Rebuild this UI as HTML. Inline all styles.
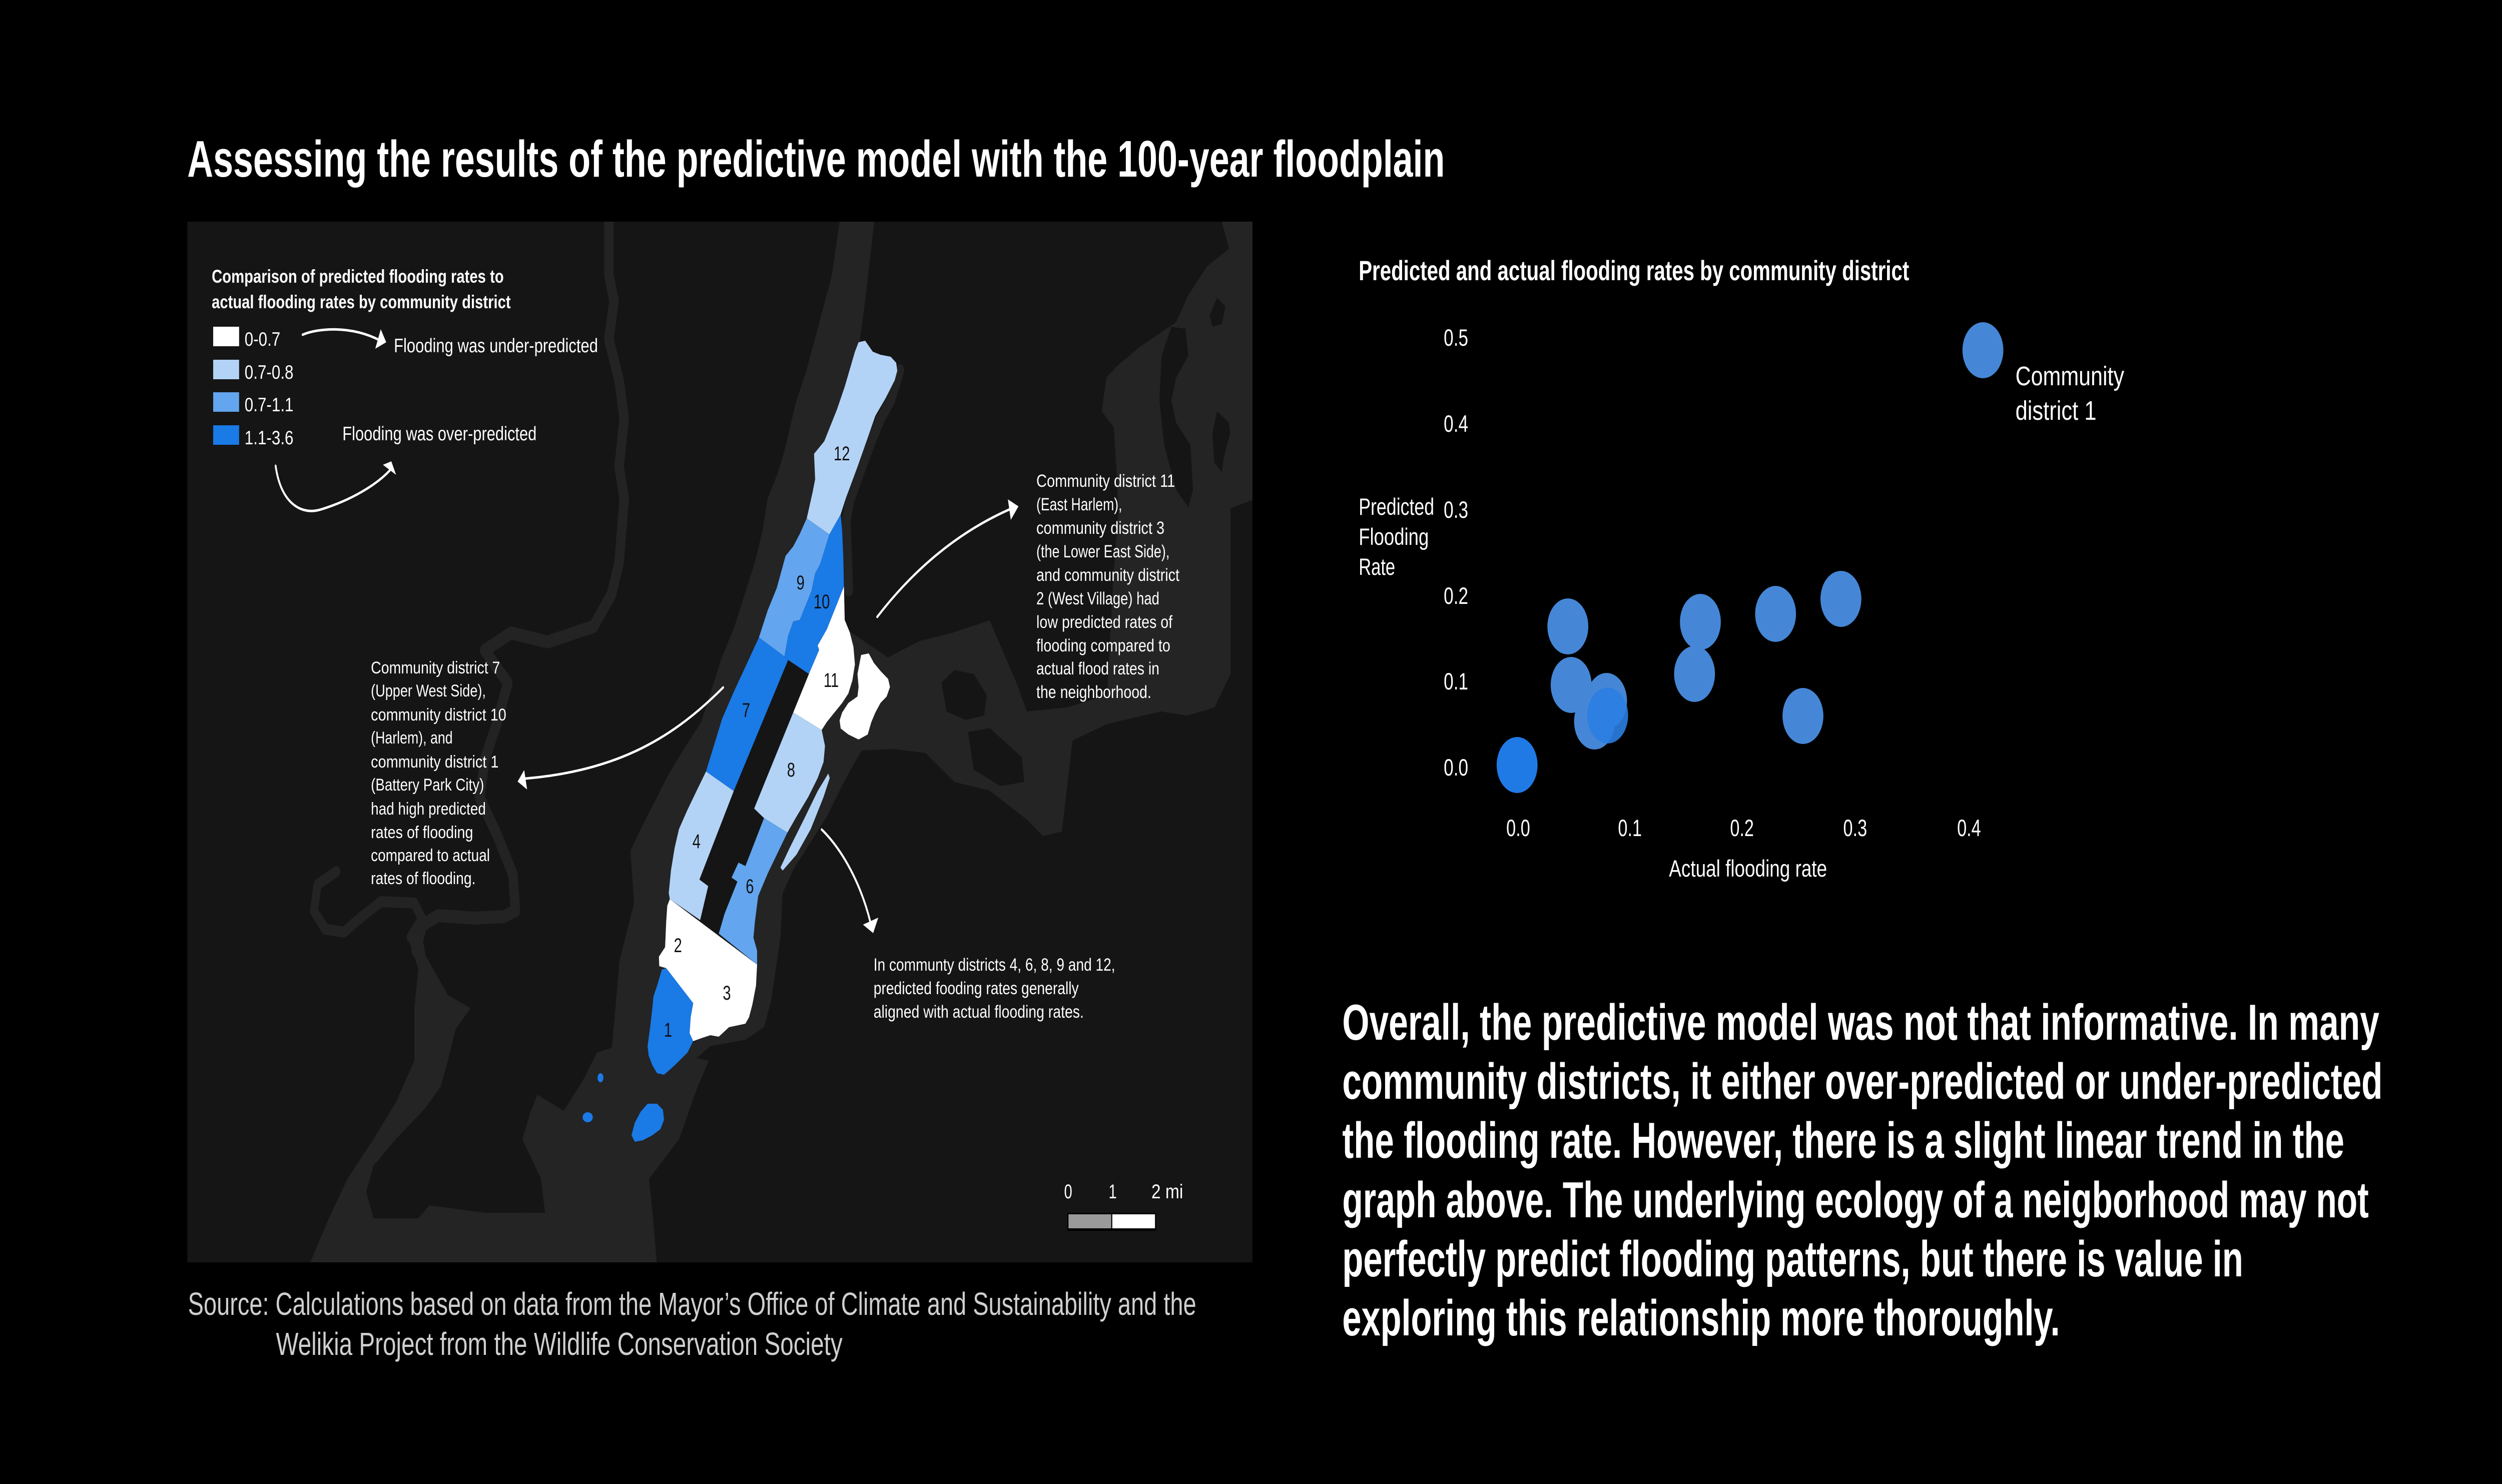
<!DOCTYPE html>
<html>
<head>
<meta charset="utf-8">
<style>
html,body{margin:0;padding:0;background:#000;overflow:hidden;width:100%;height:100%;}
svg{display:block;width:100vw;height:100vh;}
text{font-family:"Liberation Sans",Arial,sans-serif;}
</style>
</head>
<body>
<svg viewBox="0 0 6854 2966" preserveAspectRatio="none" xmlns="http://www.w3.org/2000/svg">
<rect x="0" y="0" width="6854" height="2966" fill="#000"/>

<!-- Title -->
<text x="513" y="353" font-size="103" font-weight="bold" fill="#fff" textLength="3445" lengthAdjust="spacingAndGlyphs">Assessing the results of the predictive model with the 100-year floodplain</text>

<!-- MAP -->
<defs>
<clipPath id="mapclip"><rect x="513" y="443" width="2918" height="2080"/></clipPath>
</defs>
<g clip-path="url(#mapclip)">
<rect x="513" y="443" width="2918" height="2080" fill="#151515"/>

<!-- rivers -->
<g fill="none" stroke="#232323" stroke-linejoin="round" stroke-linecap="round">
<path stroke-width="26" d="M1668,443 L1668,550 L1682,601 L1668,678 L1696,760 L1710,837 L1696,933 L1710,996 L1696,1124 L1675,1188 L1626,1252 L1500,1283 L1400,1265 L1328,1300 L1391,1365 L1363,1441 L1328,1518 L1314,1594 L1363,1671 L1405,1748 L1412,1820 L1380,1832 L1300,1835 L1200,1830 L1156,1850 L1140,1900"/>
<path stroke-width="22" d="M1125,1873 L1156,1836 L1135,1805 L1044,1802 L993,1831 L942,1863 L891,1857 L860,1821 L870,1768 L921,1742"/>
<path stroke-width="24" d="M2465,740 L2440,800 L2410,840 L2388,880 L2360,935 L2328,1000 L2318,1040 L2322,1110 L2325,1180"/>
</g>

<!-- Hudson & upper bay -->
<polygon fill="#242424" points="2300,443 2279,550 2244,646 2209,741 2180,805 2149,901 2131,945 2103,996 2089,1060 2068,1124 2040,1188 2012,1252 1977,1315 1949,1379 1921,1443 1865,1507 1830,1550 1760,1650 1727,1700 1737,1805 1697,1920 1686,2015 1676,2094 1635,2104 1595,2162 1544,2220 1472,2188 1452,2225 1431,2277 1482,2356 1493,2424 1431,2424 1401,2523 1799,2523 1789,2435 1778,2356 1860,2277 1911,2172 1942,2120 1880,2110 1820,2050 1830,1950 1860,1850 1870,1780 1900,1650 1950,1560 2000,1450 2080,1300 2200,1100 2300,900 2352,700 2370,600 2395,443"/>
<!-- Newark bay area -->
<polygon fill="#242424" points="1115,1868 1156,1868 1166,1910 1227,1989 1289,2015 1248,2057 1227,2120 1207,2172 1166,2214 1084,2277 1023,2330 1003,2382 1023,2435 1146,2435 1176,2409 1329,2424 1431,2424 1401,2523 850,2523 901,2435 952,2356 1023,2277 1084,2204 1135,2120 1135,2015 1146,1936"/>
<!-- East river / sound -->
<polygon fill="#242424" points="1883,2091 2010,2033 2042,1938 2049,1810 2138,1664 2233,1459 2290,1330 2300,1248 2366,1281 2432,1314 2520,1281 2608,1265 2711,1240 2784,1364 2813,1422 2923,1414 3033,1389 3050,1150 3064,1023 3058,934 3051,854 3018,822 3031,755 3058,733 3123,693 3222,644 3255,590 3307,532 3367,497 3347,443 3431,443 3431,999 3371,1016 3371,1347 3327,1414 3253,1430 3180,1422 3033,1447 2938,1480 2909,1662 2857,1671 2813,1638 2711,1580 2615,1563 2535,1505 2447,1497 2361,1500 2342,1523 2304,1574 2265,1632 2221,1683 2176,1734 2144,1785 2138,1874 2125,1938 2112,2002 2093,2053 2042,2078 1946,2091 1895,2123 1857,2123"/>
<!-- land patches in water -->
<g fill="#151515">
<polygon points="2579,1364 2615,1339 2667,1347 2703,1389 2696,1430 2645,1439 2593,1422"/>
<polygon points="2652,1463 2711,1455 2799,1513 2806,1563 2740,1571 2667,1538"/>
<polygon points="3209,653 3248,657 3255,711 3222,755 3209,800 3222,845 3261,889 3268,979 3255,1014 3222,979 3189,889 3176,800 3182,711"/>
<polygon points="3334,822 3367,845 3370,867 3353,912 3347,943 3327,925 3321,867"/>
<polygon points="3334,595 3357,613 3347,648 3321,653 3314,630"/>
</g>

<!-- Manhattan districts -->
<polygon fill="#b3d3f6" points="2352,684 2370,681 2391,703 2412,709 2440,713 2455,725 2458,741 2451,760 2426,796 2398,831 2377,875 2349,933 2317,996 2303,1028 2272,1068 2210,1036 2226,984 2233,958 2230,907 2258,882 2293,818 2314,773 2342,703"/>
<polygon fill="#63a5ee" points="2210,1036 2272,1068 2247,1127 2233,1146 2223,1181 2191,1239 2173,1242 2159,1271 2149,1312 2079,1274 2103,1220 2128,1175 2152,1111 2173,1092 2191,1067"/>
<polygon fill="#1a7ae6" points="2303,1028 2307,1060 2310,1111 2312,1172 2293,1207 2265,1258 2240,1290 2244,1299 2216,1347 2159,1319 2149,1312 2159,1271 2173,1242 2191,1239 2223,1181 2233,1146 2247,1127 2272,1068"/>
<polygon fill="#ffffff" points="2312,1172 2314,1239 2328,1264 2338,1293 2342,1328 2335,1360 2324,1386 2307,1405 2286,1424 2265,1443 2251,1459 2173,1424 2216,1347 2244,1299 2240,1290 2265,1258 2293,1207"/>
<polygon fill="#ffffff" points="2359,1309 2380,1306 2394,1325 2412,1341 2433,1357 2438,1373 2429,1392 2412,1405 2398,1424 2387,1443 2377,1468 2352,1478 2324,1468 2303,1456 2300,1440 2307,1424 2324,1405 2349,1392 2352,1373 2349,1347"/>
<polygon fill="#1a7ae6" points="2079,1274 2149,1312 2159,1319 2010,1581 1934,1542 1978,1437 2010,1383 2050,1320"/>
<polygon fill="#b3d3f6" points="2173,1424 2251,1459 2260,1491 2256,1523 2240,1555 2214,1593 2182,1632 2157,1664 2093,1635 2066,1616"/>
<polygon fill="#b3d3f6" points="2269,1546 2273,1555 2256,1593 2221,1657 2182,1708 2144,1740 2138,1734 2163,1695 2202,1638 2240,1581"/>
<polygon fill="#63a5ee" points="2093,1635 2157,1664 2128,1708 2103,1746 2077,1791 2068,1842 2064,1874 2074,1900 2074,1928 1969,1866 1985,1826 2020,1762 2004,1754 2023,1724 2042,1731"/>
<polygon fill="#b3d3f6" points="1934,1542 2010,1581 1916,1758 1940,1771 1918,1839 1835,1797 1832,1785 1838,1740 1848,1695 1860,1657 1883,1619 1908,1581"/>
<polygon fill="#ffffff" points="1835,1797 2074,1928 2071,1970 2061,2008 2052,2033 2042,2046 2023,2049 1997,2053 1969,2072 1946,2069 1921,2075 1899,2081 1889,2065 1892,2033 1899,2005 1825,1935 1806,1931 1805,1912 1822,1893 1825,1842 1828,1810"/>
<polygon fill="#1a7ae6" points="1825,1935 1899,2005 1892,2033 1889,2065 1899,2081 1883,2104 1857,2123 1838,2136 1819,2148 1800,2145 1787,2129 1777,2110 1774,2091 1781,2053 1787,2015 1790,1992 1800,1970 1813,1938"/>
<polygon fill="#1a7ae6" points="1774,2206 1800,2206 1816,2218 1819,2238 1809,2257 1787,2269 1761,2279 1739,2282 1730,2269 1739,2244 1755,2222"/>
<ellipse cx="1610" cy="2233" rx="14" ry="10" fill="#1a7ae6"/>
<ellipse cx="1645" cy="2154" rx="8" ry="9" fill="#1a7ae6"/>

<!-- district numbers -->
<g font-size="40" fill="#111" text-anchor="middle">
<text x="2306" y="920">12</text>
<text x="2193" y="1178">9</text>
<text x="2251" y="1216">10</text>
<text x="2277" y="1373">11</text>
<text x="2044" y="1433">7</text>
<text x="2167" y="1552">8</text>
<text x="1908" y="1695">4</text>
<text x="2054" y="1785">6</text>
<text x="1857" y="1903">2</text>
<text x="1991" y="1998">3</text>
<text x="1830" y="2072">1</text>
</g>

<!-- legend -->
<text x="580" y="565" font-size="37" font-weight="bold" fill="#fff" textLength="800" lengthAdjust="spacingAndGlyphs">Comparison of predicted flooding rates to</text>
<text x="580" y="616" font-size="37" font-weight="bold" fill="#fff" textLength="819" lengthAdjust="spacingAndGlyphs">actual flooding rates by community district</text>
<rect x="584" y="653" width="71" height="39" fill="#ffffff"/>
<rect x="584" y="719" width="71" height="39" fill="#b3d3f6"/>
<rect x="584" y="784" width="71" height="39" fill="#63a5ee"/>
<rect x="584" y="850" width="71" height="39" fill="#1a7ae6"/>
<g font-size="39" fill="#fff">
<text x="670" y="691" textLength="98" lengthAdjust="spacingAndGlyphs">0-0.7</text>
<text x="670" y="757" textLength="134" lengthAdjust="spacingAndGlyphs">0.7-0.8</text>
<text x="670" y="822" textLength="134" lengthAdjust="spacingAndGlyphs">0.7-1.1</text>
<text x="670" y="888" textLength="134" lengthAdjust="spacingAndGlyphs">1.1-3.6</text>
<text x="1079" y="704" textLength="559" lengthAdjust="spacingAndGlyphs">Flooding was under-predicted</text>
<text x="938" y="880" textLength="532" lengthAdjust="spacingAndGlyphs">Flooding was over-predicted</text>
</g>

<!-- arrows -->
<g fill="none" stroke="#fff" stroke-width="5" stroke-linecap="round">
<path d="M829,669 C870,656 960,650 1040,680"/>
<path d="M755,931 C770,1010 830,1030 880,1018 C960,1000 1030,970 1068,940"/>
<path d="M1981,1374 C1850,1470 1700,1540 1440,1556"/>
<path d="M2403,1233 C2480,1160 2600,1070 2775,1015"/>
<path d="M2251,1658 C2310,1700 2360,1770 2385,1845"/>
</g>
<g fill="#fff">
<polygon points="1043,658 1058,684 1028,697"/>
<polygon points="1049,929 1072,922 1085,949"/>
<polygon points="1436,1539 1418,1562 1444,1578"/>
<polygon points="2761,998 2790,1012 2769,1039"/>
<polygon points="2364,1848 2406,1834 2392,1865"/>
</g>

<!-- left annotation -->
<g font-size="34" fill="#fff">
<text x="1016" y="1346" textLength="354" lengthAdjust="spacingAndGlyphs">Community district 7</text>
<text x="1016" y="1392" textLength="315" lengthAdjust="spacingAndGlyphs">(Upper West Side),</text>
<text x="1016" y="1440" textLength="371" lengthAdjust="spacingAndGlyphs">community district 10</text>
<text x="1016" y="1486" textLength="224" lengthAdjust="spacingAndGlyphs">(Harlem), and</text>
<text x="1016" y="1534" textLength="350" lengthAdjust="spacingAndGlyphs">community district 1</text>
<text x="1016" y="1580" textLength="310" lengthAdjust="spacingAndGlyphs">(Battery Park City)</text>
<text x="1016" y="1628" textLength="315" lengthAdjust="spacingAndGlyphs">had high predicted</text>
<text x="1016" y="1675" textLength="280" lengthAdjust="spacingAndGlyphs">rates of flooding</text>
<text x="1016" y="1721" textLength="326" lengthAdjust="spacingAndGlyphs">compared to actual</text>
<text x="1016" y="1767" textLength="287" lengthAdjust="spacingAndGlyphs">rates of flooding.</text>
</g>

<!-- right annotation -->
<g font-size="35" fill="#fff">
<text x="2839" y="973" textLength="380" lengthAdjust="spacingAndGlyphs">Community district 11</text>
<text x="2839" y="1020" textLength="235" lengthAdjust="spacingAndGlyphs">(East Harlem),</text>
<text x="2839" y="1067" textLength="351" lengthAdjust="spacingAndGlyphs">community district 3</text>
<text x="2839" y="1114" textLength="365" lengthAdjust="spacingAndGlyphs">(the Lower East Side),</text>
<text x="2839" y="1161" textLength="392" lengthAdjust="spacingAndGlyphs">and community district</text>
<text x="2839" y="1208" textLength="337" lengthAdjust="spacingAndGlyphs">2 (West Village) had</text>
<text x="2839" y="1255" textLength="373" lengthAdjust="spacingAndGlyphs">low predicted rates of</text>
<text x="2839" y="1302" textLength="367" lengthAdjust="spacingAndGlyphs">flooding compared to</text>
<text x="2839" y="1348" textLength="337" lengthAdjust="spacingAndGlyphs">actual flood rates in</text>
<text x="2839" y="1395" textLength="315" lengthAdjust="spacingAndGlyphs">the neighborhood.</text>
</g>

<!-- bottom annotation -->
<g font-size="35" fill="#fff">
<text x="2393" y="1940" textLength="662" lengthAdjust="spacingAndGlyphs">In communty districts 4, 6, 8, 9 and 12,</text>
<text x="2393" y="1987" textLength="562" lengthAdjust="spacingAndGlyphs">predicted fooding rates generally</text>
<text x="2393" y="2034" textLength="576" lengthAdjust="spacingAndGlyphs">aligned with actual flooding rates.</text>
</g>

<!-- scale bar -->
<g font-size="40" fill="#fff">
<text x="2915" y="2395">0</text>
<text x="3037" y="2395">1</text>
<text x="3154" y="2395" textLength="87" lengthAdjust="spacingAndGlyphs">2 mi</text>
</g>
<rect x="2924" y="2424" width="243" height="36" fill="#000"/>
<rect x="2927" y="2427" width="117" height="28" fill="#9a9a9a"/>
<rect x="3047" y="2427" width="117" height="28" fill="#ffffff"/>
</g>

<!-- Source -->
<text x="515" y="2628" font-size="64" fill="#cfcfcf" textLength="2762" lengthAdjust="spacingAndGlyphs">Source: Calculations based on data from the Mayor’s Office of Climate and Sustainability and the</text>
<text x="756" y="2708" font-size="64" fill="#cfcfcf" textLength="1552" lengthAdjust="spacingAndGlyphs">Welikia Project from the Wildlife Conservation Society</text>

<!-- Scatter -->
<text x="3722" y="560" font-size="56" font-weight="bold" fill="#fff" textLength="1508" lengthAdjust="spacingAndGlyphs">Predicted and actual flooding rates by community district</text>
<g font-size="47" fill="#fff">
<text x="3955" y="691" textLength="67" lengthAdjust="spacingAndGlyphs">0.5</text>
<text x="3955" y="863" textLength="67" lengthAdjust="spacingAndGlyphs">0.4</text>
<text x="3955" y="1035" textLength="67" lengthAdjust="spacingAndGlyphs">0.3</text>
<text x="3955" y="1207" textLength="67" lengthAdjust="spacingAndGlyphs">0.2</text>
<text x="3955" y="1378" textLength="67" lengthAdjust="spacingAndGlyphs">0.1</text>
<text x="3955" y="1550" textLength="67" lengthAdjust="spacingAndGlyphs">0.0</text>
</g>
<g font-size="47" fill="#fff" text-anchor="middle">
<text x="4159" y="1671">0.0</text>
<text x="4465" y="1671">0.1</text>
<text x="4772" y="1671">0.2</text>
<text x="5082" y="1671">0.3</text>
<text x="5394" y="1671">0.4</text>
</g>
<g font-size="47" fill="#fff">
<text x="3722" y="1029" textLength="207" lengthAdjust="spacingAndGlyphs">Predicted</text>
<text x="3722" y="1089" textLength="192" lengthAdjust="spacingAndGlyphs">Flooding</text>
<text x="3722" y="1149" textLength="100" lengthAdjust="spacingAndGlyphs">Rate</text>
<text x="4572" y="1752" textLength="433" lengthAdjust="spacingAndGlyphs">Actual flooding rate</text>
</g>
<g font-size="54" fill="#fff">
<text x="5521" y="770" textLength="298" lengthAdjust="spacingAndGlyphs">Community</text>
<text x="5521" y="839" textLength="222" lengthAdjust="spacingAndGlyphs">district 1</text>
</g>
<g fill="#4587d6">
<circle cx="5432" cy="700" r="56"/>
<circle cx="4295" cy="1252" r="56"/>
<circle cx="4304" cy="1369" r="56"/>
<circle cx="4658" cy="1243" r="56"/>
<circle cx="4642" cy="1347" r="56"/>
<circle cx="4864" cy="1227" r="56"/>
<circle cx="5043" cy="1197" r="56"/>
<circle cx="4939" cy="1431" r="56"/>
<circle cx="4401" cy="1401" r="56"/>
<circle cx="4368" cy="1442" r="56"/>
</g>
<circle cx="4404" cy="1430" r="56" fill="#2a7ee2" opacity="0.9"/>
<circle cx="4156" cy="1529" r="56" fill="#1f7ae6"/>

<!-- Paragraph -->
<g font-size="101" font-weight="bold" fill="#fff">
<text x="3677" y="2078" textLength="2841" lengthAdjust="spacingAndGlyphs">Overall, the predictive model was not that informative. In many</text>
<text x="3677" y="2196" textLength="2850" lengthAdjust="spacingAndGlyphs">community districts, it either over-predicted or under-predicted</text>
<text x="3677" y="2314" textLength="2745" lengthAdjust="spacingAndGlyphs">the flooding rate. However, there is a slight linear trend in the</text>
<text x="3677" y="2433" textLength="2812" lengthAdjust="spacingAndGlyphs">graph above. The underlying ecology of a neigborhood may not</text>
<text x="3677" y="2551" textLength="2468" lengthAdjust="spacingAndGlyphs">perfectly predict flooding patterns, but there is value in</text>
<text x="3677" y="2669" textLength="1966" lengthAdjust="spacingAndGlyphs">exploring this relationship more thoroughly.</text>
</g>
</svg>
</body>
</html>
